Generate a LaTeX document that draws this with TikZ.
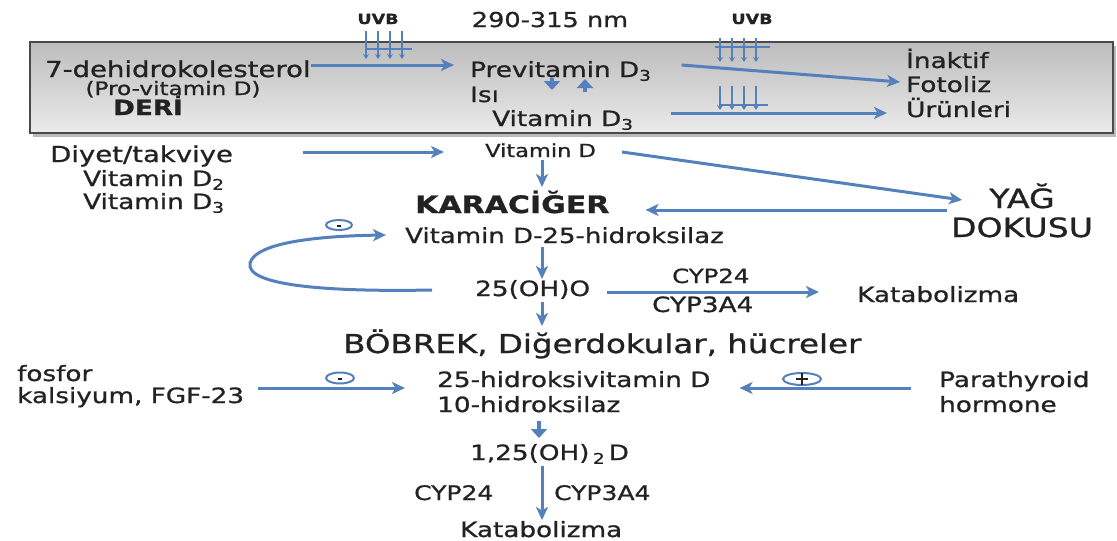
\documentclass[tikz,border=0pt]{standalone}
\usepackage{fontspec}
\setmainfont{DejaVu Sans}[FakeStretch=1.25,FakeBold=1]
\usetikzlibrary{arrows.meta}
\definecolor{ab}{HTML}{5480BC}
\definecolor{tx}{HTML}{222222}
\definecolor{bord}{HTML}{4A4A4A}
\definecolor{boxtop}{HTML}{BDBDBD}
\definecolor{boxbot}{HTML}{EAEAEA}
\newcommand{\fs}[1]{\fontsize{#1}{#1}\selectfont}
\begin{document}
\begin{tikzpicture}[x=1pt,y=-1pt,
  t/.style={inner sep=0pt, text=tx, font=\fs{21}},
  arr/.style={draw=ab, line width=3pt, -{Stealth[length=13pt,width=12pt,inset=3.5pt]}},
  stub/.style={draw=ab, line width=4.5pt, -{Triangle[length=9pt,width=16pt]}},
  ray/.style={draw=ab, line width=1.4pt},
  rayarr/.style={draw=ab, line width=1.4pt, -{Stealth[length=5pt,width=6pt]}},
  sym/.style={draw=ab, line width=2pt}]
\useasboundingbox (0,0) rectangle (1117,541);
% skin box
\fill[gray!55] (33,46) rectangle (1116,137);
\path[draw=bord, line width=2.5pt, top color=boxtop, bottom color=boxbot] (30,42) rectangle (1113,133);
% texts
\node[t, anchor=base west, font=\fs{22}] (dehidro) at (45,77) {7-dehidrokolesterol};
\node[t, anchor=base, font=\fs{18.5}] (provit) at (173,95) {(Pro-vitamin D)};
\node[t, anchor=base, font=\bfseries\fs{21}] (deri) at (148,115) {DERİ};
\node[t, anchor=base, font=\bfseries\fs{14}] (uvbA) at (378,24) {UVB};
\node[t, anchor=base, font=\fs{20.5}] (nm) at (550,27) {290-315 nm};
\node[t, anchor=base, font=\bfseries\fs{14}] (uvbB) at (752,24) {UVB};
\node[t, anchor=base west] (previt) at (470,77) {Previtamin D\textsubscript{3}};
\node[t, anchor=base west] (isi) at (470,102) {Isı};
\node[t, anchor=base west] (vitdc) at (492,126) {Vitamin D\textsubscript{3}};
\node[t, anchor=base west] (inaktif) at (906,68) {İnaktif};
\node[t, anchor=base west] (fotoliz) at (906,92) {Fotoliz};
\node[t, anchor=base west] (urun) at (906,117) {Ürünleri};
\node[t, anchor=base west, font=\fs{22}] (diyet) at (50,162) {Diyet/takviye};
\node[t, anchor=base west] (vdtwo) at (83,186) {Vitamin D\textsubscript{2}};
\node[t, anchor=base west] (vdthree) at (83,209) {Vitamin D\textsubscript{3}};
\node[t, anchor=base west, font=\fs{18}] (vitd) at (485,157) {Vitamin D};
\node[t, anchor=base west, font=\bfseries\fs{24}] (kc) at (415,213) {KARACİĞER};
\node[t, anchor=base, font=\fs{26.5}] (yag) at (1022,208) {YAĞ};
\node[t, anchor=base, font=\fs{26.5}] (dok) at (1022,237) {DOKUSU};
\node[t, anchor=base west, font=\fs{20.8}] (vd25) at (405,243) {Vitamin D-25-hidroksilaz};
\node[t, anchor=base west] (oh25) at (475,296) {25(OH)O};
\node[t, anchor=base west, font=\fs{19.5}] (cypa) at (672,283) {CYP24};
\node[t, anchor=base west] (cypb) at (652,312) {CYP3A4};
\node[t, anchor=base west] (kat1) at (857,302) {Katabolizma};
\node[t, anchor=base west, font=\fs{26}] (bob) at (343,353) {BÖBREK, Diğerdokular, hücreler};
\node[t, anchor=base west] (fos) at (17,381) {fosfor};
\node[t, anchor=base west] (kal) at (17,403) {kalsiyum, FGF-23};
\node[t, anchor=base west] (hv) at (437,387) {25-hidroksivitamin D};
\node[t, anchor=base west] (hl) at (437,412) {10-hidroksilaz};
\node[t, anchor=base west] (para) at (939,387) {Parathyroid};
\node[t, anchor=base west] (horm) at (939,412) {hormone};
\node[t, anchor=base west] (oh125) at (470,460) {1,25(OH)\,\textsubscript{2}\,D};
\node[t, anchor=base west, font=\fs{20}] (cypc) at (414,500) {CYP24};
\node[t, anchor=base west, font=\fs{20}] (cypd) at (554,500) {CYP3A4};
\node[t, anchor=base west] (katb) at (460,537) {Katabolizma};
% UVB rays
\foreach \x in {366,378,390,402} \draw[rayarr] (\x,31) -- (\x,59);
\draw[ray] (366,49) -- (412,49);
\foreach \x in {720,732,744,756} \draw[rayarr] (\x,38) -- (\x,62);
\draw[ray] (715,47) -- (770,47);
\foreach \x in {720,732,744,756} \draw[rayarr] (\x,86) -- (\x,110);
\draw[ray] (720,105) -- (768,105);
% inhibition / stimulation symbols
\draw[sym] (339,225) ellipse [x radius=13, y radius=5];
\draw[tx, line width=1.5pt] (337,226) -- (341,226);
\draw[sym] (340,378) ellipse [x radius=14, y radius=5.5];
\draw[tx, line width=1.5pt] (338,379) -- (342,379);
\draw[sym] (802,379) ellipse [x radius=19, y radius=6];
\draw[tx, line width=1.5pt] (796,379) -- (808,379);
\draw[tx, line width=1.5pt] (802,373) -- (802,385);
% connectors
\draw[arr] ([yshift=12pt]dehidro.base east) -- ([xshift=-16pt,yshift=12pt]previt.base west);
\draw[arr] ([xshift=30pt,yshift=12pt]previt.base east) -- ([xshift=-6pt,yshift=10pt]fotoliz.base west);
\draw[arr] ([xshift=37pt,yshift=13pt]vitdc.base east) -- ([xshift=-19pt,yshift=4pt]urun.base west);
\draw[stub] ([xshift=82pt,yshift=-1pt]previt.base west) -- ([xshift=60pt,yshift=36pt]vitdc.base west);
\draw[stub] ([xshift=93pt,yshift=34pt]vitdc.base west) -- ([xshift=115pt,yshift=-2pt]previt.base west);
\draw[arr] ([xshift=70pt,yshift=10pt]diyet.base east) -- ([xshift=-41pt,yshift=5pt]vitd.base west);
\draw[arr] ([xshift=57pt,yshift=-3pt]vitd.base west) -- ([xshift=127pt,yshift=26pt]kc.base west);
\draw[arr] ([xshift=26pt,yshift=5pt]vitd.base east) -- ([xshift=-27pt,yshift=8pt]yag.base west);
\draw[arr] ([xshift=-42pt,yshift=-2pt]yag.base west) -- ([xshift=36pt,yshift=3pt]kc.base east);
\draw[arr] ([xshift=-43pt,yshift=6pt]oh25.base west) .. controls (330,292) and (245,286) .. (250,263) .. controls (256,242) and (320,236) .. ([xshift=-19pt,yshift=8pt]vd25.base west);
\draw[arr] ([xshift=137pt,yshift=-4pt]vd25.base west) -- ([xshift=67pt,yshift=17pt]oh25.base west);
\draw[arr] ([xshift=17pt,yshift=4pt]oh25.base east) -- ([xshift=-38pt,yshift=10pt]kat1.base west);
\draw[arr] ([xshift=67pt,yshift=-6pt]oh25.base west) -- ([xshift=199pt,yshift=27pt]bob.base west);
\draw[arr] ([xshift=14pt,yshift=15pt]kal.base east) -- ([xshift=-32pt,yshift=-1pt]hv.base west);
\draw[arr] ([xshift=-28pt,yshift=-1pt]para.base west) -- ([xshift=29pt,yshift=-1pt]hv.base east);
\draw[stub] ([xshift=102pt,yshift=-9pt]hl.base west) -- ([xshift=69pt,yshift=22pt]oh125.base west);
\draw[arr] ([xshift=72pt,yshift=-6pt]oh125.base west) -- ([xshift=82pt,yshift=17pt]katb.base west);
\end{tikzpicture}
\end{document}
